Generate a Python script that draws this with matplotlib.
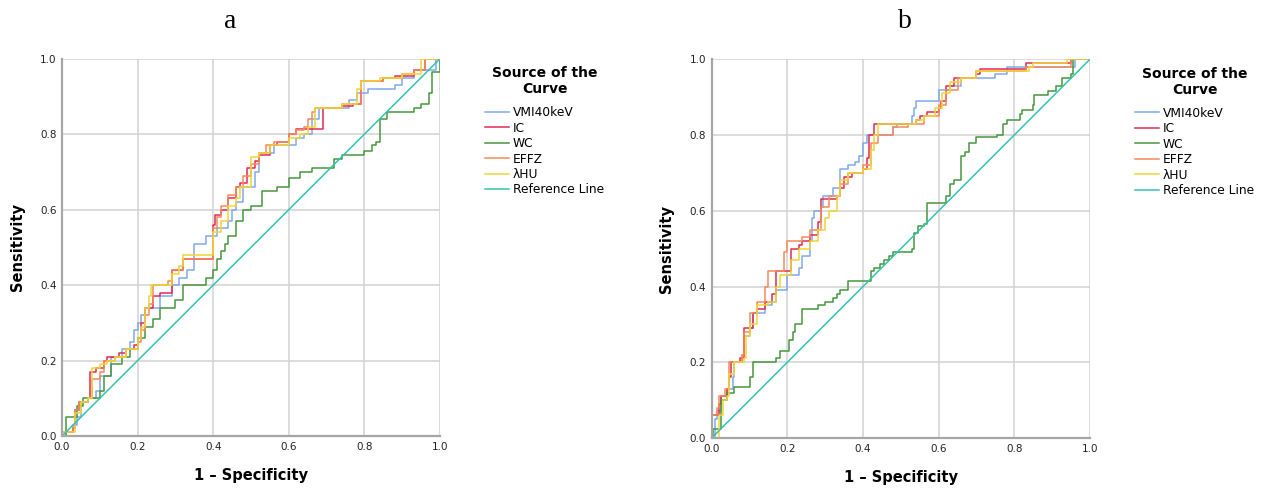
# roc_panels.py

import matplotlib
matplotlib.use("Agg")
import matplotlib.pyplot as plt


LABELS = ["VMI40keV", "IC", "WC", "EFFZ", "λHU"]
COLORS = ["#7fa9ee", "#e32a55", "#45973d", "#f7895a", "#f0d535"]
REF_COLOR = "#35c2b2"

# panel a: points where each ROC step rises (1 - specificity, sensitivity)
a_vmi_x = [0, 0.01, 0.03, 0.04, 0.05, 0.07, 0.09, 0.10, 0.13, 0.16, 0.18, 0.19, 0.20, 0.21, 0.22, 0.26, 0.29,
           0.31, 0.33, 0.35, 0.38, 0.41, 0.44, 0.45, 0.46, 0.48, 0.51, 0.52, 0.56, 0.62, 0.64, 0.66, 0.68,
           0.76, 0.78, 0.81, 0.88, 0.90, 0.93, 0.99, 1.0]
a_vmi_y = [0, 0.01, 0.03, 0.05, 0.09, 0.10, 0.12, 0.16, 0.21, 0.23, 0.25, 0.28, 0.30, 0.32, 0.34, 0.37, 0.40,
           0.42, 0.44, 0.51, 0.53, 0.55, 0.57, 0.60, 0.62, 0.66, 0.70, 0.75, 0.77, 0.79, 0.80, 0.84, 0.87,
           0.89, 0.91, 0.92, 0.93, 0.95, 0.97, 1.0, 1.0]

a_ic_x = [0, 0, 0.03, 0.035, 0.045, 0.07, 0.075, 0.09, 0.11, 0.12, 0.15, 0.17, 0.19, 0.20, 0.21, 0.22, 0.24,
          0.26, 0.29, 0.32, 0.40, 0.405, 0.42, 0.44, 0.46, 0.47, 0.49, 0.51, 0.52, 0.55, 0.57, 0.60, 0.62,
          0.69, 0.74, 0.77, 0.79, 0.85, 0.88, 0.93, 0.96, 1.0]
a_ic_y = [0, 0.01, 0.02, 0.07, 0.09, 0.10, 0.17, 0.18, 0.20, 0.21, 0.22, 0.23, 0.24, 0.26, 0.30, 0.34, 0.37,
          0.38, 0.44, 0.47, 0.56, 0.585, 0.60, 0.63, 0.66, 0.67, 0.71, 0.73, 0.745, 0.77, 0.78, 0.80, 0.815,
          0.87, 0.875, 0.88, 0.94, 0.95, 0.955, 0.97, 1.0, 1.0]

a_wc_x = [0, 0.01, 0.04, 0.055, 0.10, 0.11, 0.13, 0.16, 0.18, 0.20, 0.22, 0.24, 0.26, 0.30, 0.32, 0.38, 0.40,
          0.41, 0.42, 0.43, 0.44, 0.46, 0.48, 0.50, 0.53, 0.57, 0.60, 0.63, 0.66, 0.72, 0.74, 0.80, 0.82,
          0.83, 0.84, 0.86, 0.93, 0.95, 0.97, 0.98, 1.0]
a_wc_y = [0, 0.05, 0.08, 0.10, 0.12, 0.16, 0.19, 0.21, 0.23, 0.26, 0.29, 0.31, 0.34, 0.36, 0.40, 0.42, 0.44,
          0.47, 0.49, 0.51, 0.53, 0.57, 0.60, 0.61, 0.65, 0.66, 0.685, 0.70, 0.71, 0.735, 0.745, 0.755, 0.77,
          0.78, 0.84, 0.86, 0.87, 0.88, 0.91, 0.965, 1.0]

a_effz_x = [0, 0, 0.03, 0.035, 0.045, 0.07, 0.08, 0.10, 0.11, 0.14, 0.17, 0.20, 0.21, 0.22, 0.23, 0.24, 0.28,
            0.29, 0.32, 0.40, 0.41, 0.42, 0.44, 0.46, 0.48, 0.50, 0.52, 0.54, 0.56, 0.60, 0.62, 0.64, 0.65,
            0.66, 0.67, 0.74, 0.79, 0.85, 0.90, 0.93, 0.96, 1.0]
a_effz_y = [0, 0.01, 0.02, 0.07, 0.09, 0.10, 0.15, 0.17, 0.20, 0.21, 0.23, 0.25, 0.28, 0.32, 0.35, 0.40, 0.41,
            0.44, 0.47, 0.55, 0.58, 0.61, 0.64, 0.66, 0.69, 0.72, 0.75, 0.77, 0.78, 0.80, 0.81, 0.82, 0.84,
            0.86, 0.87, 0.88, 0.94, 0.95, 0.96, 0.97, 1.0, 1.0]

a_lhu_x = [0, 0, 0.02, 0.035, 0.05, 0.07, 0.08, 0.10, 0.12, 0.14, 0.17, 0.20, 0.21, 0.22, 0.23, 0.235, 0.29,
           0.31, 0.32, 0.40, 0.42, 0.44, 0.46, 0.47, 0.50, 0.52, 0.55, 0.60, 0.63, 0.65, 0.67, 0.74, 0.78,
           0.79, 0.84, 0.90, 0.95, 1.0]
a_lhu_y = [0, 0.01, 0.01, 0.06, 0.09, 0.10, 0.18, 0.19, 0.20, 0.21, 0.23, 0.26, 0.29, 0.34, 0.37, 0.40, 0.43,
           0.45, 0.48, 0.54, 0.57, 0.61, 0.63, 0.66, 0.74, 0.75, 0.77, 0.79, 0.80, 0.82, 0.87, 0.88, 0.92,
           0.94, 0.95, 0.96, 1.0, 1.0]

# panel b
b_vmi_x = [0, 0.01, 0.015, 0.025, 0.04, 0.055, 0.06, 0.08, 0.085, 0.10, 0.11, 0.14, 0.16, 0.17, 0.20, 0.23,
           0.24, 0.26, 0.265, 0.27, 0.29, 0.295, 0.32, 0.34, 0.36, 0.38, 0.39, 0.40, 0.41, 0.48, 0.49, 0.53,
           0.535, 0.54, 0.60, 0.63, 0.66, 0.75, 0.78, 0.96, 1.0]
b_vmi_y = [0, 0.05, 0.07, 0.11, 0.13, 0.16, 0.20, 0.22, 0.27, 0.29, 0.33, 0.35, 0.36, 0.39, 0.43, 0.45,
           0.48, 0.52, 0.58, 0.60, 0.61, 0.64, 0.66, 0.71, 0.72, 0.73, 0.745, 0.78, 0.80, 0.82, 0.83, 0.85,
           0.87, 0.89, 0.92, 0.93, 0.95, 0.96, 0.98, 1.0, 1.0]

b_ic_x = [0, 0, 0.02, 0.025, 0.04, 0.045, 0.05, 0.075, 0.085, 0.11, 0.12, 0.14, 0.16, 0.17, 0.21, 0.23, 0.24,
          0.26, 0.28, 0.29, 0.33, 0.34, 0.35, 0.37, 0.40, 0.41, 0.415, 0.43, 0.54, 0.55, 0.57, 0.60, 0.605,
          0.62, 0.64, 0.70, 0.71, 0.83, 0.95, 1.0]
b_ic_y = [0, 0.06, 0.09, 0.11, 0.13, 0.16, 0.20, 0.21, 0.29, 0.33, 0.34, 0.36, 0.38, 0.44, 0.50, 0.51, 0.52,
          0.535, 0.57, 0.63, 0.64, 0.66, 0.69, 0.70, 0.71, 0.74, 0.80, 0.83, 0.84, 0.85, 0.86, 0.87, 0.89,
          0.93, 0.95, 0.96, 0.975, 0.99, 1.0, 1.0]

b_wc_x = [0, 0.003, 0.025, 0.04, 0.06, 0.10, 0.11, 0.17, 0.18, 0.205, 0.215, 0.22, 0.24, 0.28, 0.30, 0.32,
          0.33, 0.34, 0.36, 0.42, 0.43, 0.445, 0.455, 0.47, 0.48, 0.53, 0.535, 0.545, 0.56, 0.57, 0.62, 0.63,
          0.64, 0.66, 0.67, 0.68, 0.70, 0.753, 0.77, 0.78, 0.815, 0.82, 0.85, 0.853, 0.89, 0.91, 0.925,
          0.95, 0.955, 1.0]
b_wc_y = [0, 0.025, 0.10, 0.12, 0.135, 0.16, 0.20, 0.21, 0.23, 0.26, 0.28, 0.30, 0.34, 0.35, 0.36, 0.37,
          0.38, 0.39, 0.415, 0.44, 0.45, 0.46, 0.47, 0.48, 0.49, 0.50, 0.54, 0.56, 0.565, 0.62, 0.64, 0.67,
          0.68, 0.745, 0.755, 0.78, 0.795, 0.80, 0.83, 0.84, 0.855, 0.865, 0.88, 0.905, 0.915, 0.93, 0.95,
          0.96, 1.0, 1.0]

b_effz_x = [0, 0, 0.015, 0.02, 0.035, 0.045, 0.08, 0.085, 0.10, 0.12, 0.14, 0.15, 0.19, 0.20, 0.24, 0.26,
            0.29, 0.31, 0.34, 0.36, 0.40, 0.42, 0.44, 0.48, 0.52, 0.56, 0.60, 0.62, 0.65, 0.70, 0.83, 0.95, 1.0]
b_effz_y = [0, 0.06, 0.08, 0.11, 0.13, 0.20, 0.22, 0.28, 0.33, 0.36, 0.40, 0.44, 0.49, 0.52, 0.53, 0.55,
            0.61, 0.64, 0.67, 0.70, 0.72, 0.78, 0.80, 0.82, 0.83, 0.85, 0.88, 0.92, 0.95, 0.97, 0.98, 1.0, 1.0]

b_lhu_x = [0, 0.02, 0.03, 0.04, 0.045, 0.06, 0.085, 0.09, 0.10, 0.12, 0.15, 0.17, 0.18, 0.21, 0.23, 0.26,
           0.28, 0.30, 0.31, 0.33, 0.34, 0.36, 0.40, 0.42, 0.43, 0.44, 0.54, 0.56, 0.59, 0.61, 0.63, 0.66,
           0.70, 0.84, 0.85, 0.94, 1.0]
b_lhu_y = [0, 0.06, 0.10, 0.11, 0.17, 0.20, 0.21, 0.27, 0.30, 0.35, 0.36, 0.40, 0.43, 0.47, 0.50, 0.52,
           0.55, 0.58, 0.60, 0.64, 0.68, 0.70, 0.71, 0.76, 0.80, 0.83, 0.84, 0.85, 0.87, 0.91, 0.94, 0.95,
           0.97, 0.98, 0.99, 1.0, 1.0]

panel_a = [(a_vmi_x, a_vmi_y), (a_ic_x, a_ic_y), (a_wc_x, a_wc_y), (a_effz_x, a_effz_y), (a_lhu_x, a_lhu_y)]
panel_b = [(b_vmi_x, b_vmi_y), (b_ic_x, b_ic_y), (b_wc_x, b_wc_y), (b_effz_x, b_effz_y), (b_lhu_x, b_lhu_y)]
ticks = [0.0, 0.2, 0.4, 0.6, 0.8, 1.0]
tick_labels = ["0.0", "0.2", "0.4", "0.6", "0.8", "1.0"]


def draw_panel(ax, curves):
    for (xs, ys), label, color in zip(curves, LABELS, COLORS):
        ax.plot(xs, ys, drawstyle="steps-post", color=color, linewidth=1.1, label=label)
    ax.plot([0, 1], [0, 1], color=REF_COLOR, linewidth=1.1, label="Reference Line")

    ax.set_xlim(0, 1)
    ax.set_ylim(0, 1)
    ax.set_xticks(ticks)
    ax.set_yticks(ticks)
    ax.set_xticklabels(tick_labels)
    ax.set_yticklabels(tick_labels)
    ax.tick_params(length=0, pad=4, labelsize=7.5, labelcolor="#222222")
    ax.grid(True, color="#d2d2d2", linewidth=1.1)
    ax.set_axisbelow(True)
    for side in ["top", "right"]:
        ax.spines[side].set_visible(False)
    for side in ["left", "bottom"]:
        ax.spines[side].set_color("#a6a6a6")
        ax.spines[side].set_linewidth(1.6)

    ax.set_xlabel("1 – Specificity", fontsize=10.5, fontweight="bold", labelpad=12)
    ax.set_ylabel("Sensitivity", fontsize=10.5, fontweight="bold", labelpad=11)

    leg = ax.legend(loc="upper left", bbox_to_anchor=(1.12, 0.98), frameon=False,
                    title="Source of the\nCurve", title_fontproperties={"weight": "bold", "size": 10},
                    fontsize=8.8, handlelength=1.95, handletextpad=0.3, labelspacing=0.2,
                    borderpad=0, borderaxespad=0)
    leg.get_title().set_multialignment("center")
    leg._legend_box.sep = 7


fig = plt.figure(figsize=(12.63, 4.90), dpi=100)
ax_a = fig.add_axes([0.0491, 0.1102, 0.2993, 0.770])
ax_b = fig.add_axes([0.5635, 0.1061, 0.2995, 0.773])

draw_panel(ax_a, panel_a)
draw_panel(ax_b, panel_b)

fig.text(230 / 1263, 1 - 22 / 490, "a", family="Liberation Serif", fontsize=20, ha="center", va="center")
fig.text(905 / 1263, 1 - 22 / 490, "b", family="Liberation Serif", fontsize=20, ha="center", va="center")

fig.savefig("out.png", dpi=100)
plt.close(fig)
